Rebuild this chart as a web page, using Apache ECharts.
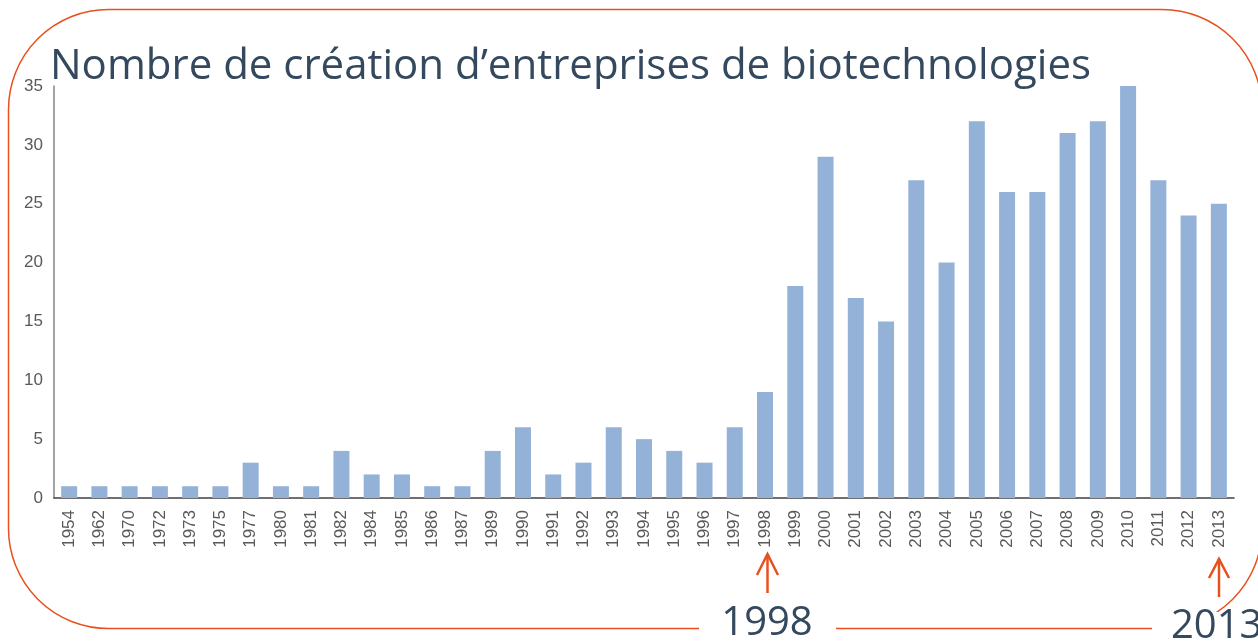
<!DOCTYPE html>
<html>
<head>
<meta charset="utf-8">
<script src="https://cdn.jsdelivr.net/npm/echarts@6/dist/echarts.min.js"></script>
<style>
html,body{margin:0;padding:0;background:#fff;}
#chart{width:1258px;height:643px;}
</style>
</head>
<body>
<div id="chart"></div>
<script>
const titleText = "Nombre de création d’entreprises de biotechnologies";
const years = ["1954","1962","1970","1972","1973","1975","1977","1980","1981","1982","1984","1985","1986","1987","1989","1990","1991","1992","1993","1994","1995","1996","1997","1998","1999","2000","2001","2002","2003","2004","2005","2006","2007","2008","2009","2010","2011","2012","2013"];
const creations = [1,1,1,1,1,1,3,1,1,4,2,2,1,1,4,6,2,3,6,5,4,3,6,9,18,29,17,15,27,20,32,26,26,31,32,35,27,24,25];
const yTicks = {min:0, max:35, interval:5};
const highlights = ["1998","2013"];

const chart = echarts.init(document.getElementById('chart'), null, {renderer:'canvas'});
const orange = '#E8501E';
const textDark = '#34495E';

const option = {
  animation:false,
  backgroundColor:'#fff',
  grid:{left:54, right:24, top:86, bottom:145, containLabel:false},
  xAxis:{
    type:'category',
    data:years,
    axisLine:{show:true, lineStyle:{color:'#404040', width:1.5}},
    axisTick:{show:false},
    axisLabel:{rotate:90, interval:0, margin:12, color:'#595959', fontSize:17, fontFamily:'Liberation Sans'}
  },
  yAxis:{
    type:'value',
    min:yTicks.min, max:yTicks.max, interval:yTicks.interval,
    axisLine:{show:true, lineStyle:{color:'#868686', width:1.5}},
    axisTick:{show:false},
    splitLine:{show:false},
    axisLabel:{margin:11, color:'#595959', fontSize:17, fontFamily:'Liberation Sans'}
  },
  series:[{
    type:'bar',
    data:creations,
    barWidth:16,
    itemStyle:{color:'#94B2D7'}
  }],
  graphic:[
    {type:'rect', z:100, silent:true, shape:{x:8.5, y:9.5, width:1253.5, height:619, r:100},
     style:{fill:null, stroke:orange, lineWidth:1.5}},
    {type:'rect', z:101, silent:true, shape:{x:699, y:612, width:137, height:31}, style:{fill:'#fff'}},
    {type:'rect', z:101, silent:true, shape:{x:1152, y:612, width:106, height:31}, style:{fill:'#fff'}},
    {type:'text', z:102, left:50, top:46, style:{text:titleText, font:'42px "Open Sans"', fill:textDark}},
    {type:'text', z:102, style:{x:767, y:624, text:highlights[0], font:'40px "Open Sans"', fill:textDark, textAlign:'center', textVerticalAlign:'middle'}},
    {type:'text', z:102, style:{x:1171, y:627, text:highlights[1], font:'40px "Open Sans"', fill:textDark, textAlign:'left', textVerticalAlign:'middle'}},
    {type:'line', z:102, shape:{x1:767.5, y1:554, x2:767.5, y2:593}, style:{stroke:orange, lineWidth:2.5}},
    {type:'polyline', z:102, shape:{points:[[757,575],[767.5,554],[778,575]]}, style:{stroke:orange, lineWidth:2.5, fill:null}},
    {type:'line', z:102, shape:{x1:1219, y1:559, x2:1219, y2:597}, style:{stroke:orange, lineWidth:2.5}},
    {type:'polyline', z:102, shape:{points:[[1209,578],[1219,559],[1229,578]]}, style:{stroke:orange, lineWidth:2.5, fill:null}}
  ]
};
chart.setOption(option);
</script>
</body>
</html>
